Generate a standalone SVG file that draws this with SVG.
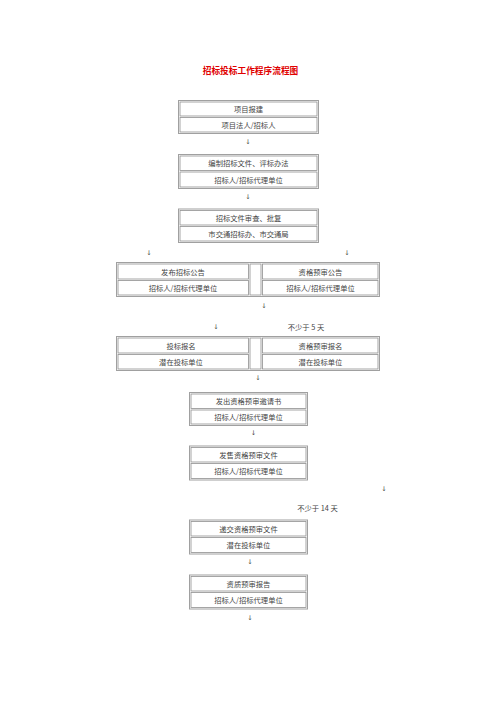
<svg xmlns="http://www.w3.org/2000/svg" width="496" height="702" viewBox="0 0 496 702">
<style>
.bg{fill:#fff}
.o{fill:none;stroke:#a0a0a0;stroke-width:1}
.c{fill:#fff;stroke:#909090;stroke-width:0.8}
.t{font-family:"Noto Sans CJK SC","Liberation Serif",serif;font-size:7.3px;fill:#444;text-anchor:middle;dominant-baseline:central}
.a{font-family:"DejaVu Sans","Noto Sans CJK SC",sans-serif;font-size:6.5px;fill:#444;text-anchor:middle;dominant-baseline:central}
.title{font-family:"Noto Sans CJK SC",sans-serif;font-size:8.7px;font-weight:bold;fill:#e00000;text-anchor:middle;dominant-baseline:central}
</style>
<rect class="bg" x="0" y="0" width="496" height="702"/>
<text class="title" x="250.5" y="70">招标投标工作程序流程图</text>

<g id="n1">
<rect class="o" x="178.5" y="100.5" width="140" height="33"/>
<rect class="c" x="180" y="102" width="137" height="14"/>
<rect class="c" x="180" y="117.5" width="137" height="14.5"/>
<text class="t" x="248.5" y="109">项目报建</text>
<text class="t" x="248.5" y="125">项目法人/招标人</text>
</g>

<g id="n2">
<rect class="o" x="178.5" y="154.5" width="140" height="34"/>
<rect class="c" x="180" y="156" width="137" height="14.5"/>
<rect class="c" x="180" y="172" width="137" height="15"/>
<text class="t" x="248.5" y="163">编制招标文件、评标办法</text>
<text class="t" x="248.5" y="179.5">招标人/招标代理单位</text>
</g>

<g id="n3">
<rect class="o" x="178.5" y="209" width="140" height="33.5"/>
<rect class="c" x="180" y="210.5" width="137" height="14.5"/>
<rect class="c" x="180" y="226.5" width="137" height="14.5"/>
<text class="t" x="248.5" y="217.5">招标文件审查、批复</text>
<text class="t" x="248.5" y="234">市交通招标办、市交通局</text>
</g>

<g id="n4">
<rect class="o" x="116.5" y="262.5" width="263" height="34"/>
<rect class="c" x="118" y="264" width="130.5" height="15"/>
<rect class="c" x="118" y="280.5" width="130.5" height="14.5"/>
<rect class="c" x="250" y="264" width="11" height="31"/>
<rect class="c" x="262.5" y="264" width="115.5" height="15"/>
<rect class="c" x="262.5" y="280.5" width="115.5" height="14.5"/>
<text class="t" x="183" y="271.5">发布招标公告</text>
<text class="t" x="183" y="288">招标人/招标代理单位</text>
<text class="t" x="320.5" y="271.5">资格预审公告</text>
<text class="t" x="320.5" y="288">招标人/招标代理单位</text>
</g>

<g id="n5">
<rect class="o" x="116.5" y="336.5" width="263" height="34"/>
<rect class="c" x="118" y="338" width="130.5" height="15"/>
<rect class="c" x="118" y="354.5" width="130.5" height="14.5"/>
<rect class="c" x="250" y="338" width="11" height="31"/>
<rect class="c" x="262.5" y="338" width="115.5" height="15"/>
<rect class="c" x="262.5" y="354.5" width="115.5" height="14.5"/>
<text class="t" x="181" y="345.5">投标报名</text>
<text class="t" x="181" y="362">潜在投标单位</text>
<text class="t" x="320.5" y="345.5">资格预审报名</text>
<text class="t" x="320.5" y="362">潜在投标单位</text>
</g>

<g id="n6">
<rect class="o" x="189.5" y="392.5" width="118" height="33"/>
<rect class="c" x="191" y="394" width="115" height="14.5"/>
<rect class="c" x="191" y="410" width="115" height="14"/>
<text class="t" x="248.5" y="401">发出资格预审邀请书</text>
<text class="t" x="248.5" y="417">招标人/招标代理单位</text>
</g>

<g id="n7">
<rect class="o" x="189.5" y="446" width="118" height="34"/>
<rect class="c" x="191" y="447.5" width="115" height="14.5"/>
<rect class="c" x="191" y="463.5" width="115" height="15"/>
<text class="t" x="248.5" y="454.5">发售资格预审文件</text>
<text class="t" x="248.5" y="471">招标人/招标代理单位</text>
</g>

<g id="n8">
<rect class="o" x="189.5" y="520" width="118" height="34"/>
<rect class="c" x="191" y="521.5" width="115" height="14.5"/>
<rect class="c" x="191" y="537.5" width="115" height="15"/>
<text class="t" x="248.5" y="528.5">递交资格预审文件</text>
<text class="t" x="248.5" y="545">潜在投标单位</text>
</g>

<g id="n9">
<rect class="o" x="189.5" y="575" width="118" height="34"/>
<rect class="c" x="191" y="576.5" width="115" height="14.5"/>
<rect class="c" x="191" y="592.5" width="115" height="15"/>
<text class="t" x="248.5" y="583.5">资质预审报告</text>
<text class="t" x="248.5" y="600">招标人/招标代理单位</text>
</g>

<g id="connectors">
<text class="a" x="248" y="141.7">↓</text>
<text class="a" x="248" y="196.7">↓</text>
<text class="a" x="149" y="253">↓</text>
<text class="a" x="347" y="253">↓</text>
<text class="a" x="264" y="305.7">↓</text>
<text class="a" x="216" y="326.7">↓</text>
<text class="t" x="306" y="327">不少于 5 天</text>
<text class="a" x="258" y="377.5">↓</text>
<text class="a" x="253.5" y="433">↓</text>
<text class="a" x="384" y="489">↓</text>
<text class="t" x="317.5" y="508">不少于 14 天</text>
<text class="a" x="250" y="562">↓</text>
<text class="a" x="250" y="618">↓</text>
</g>
</svg>
